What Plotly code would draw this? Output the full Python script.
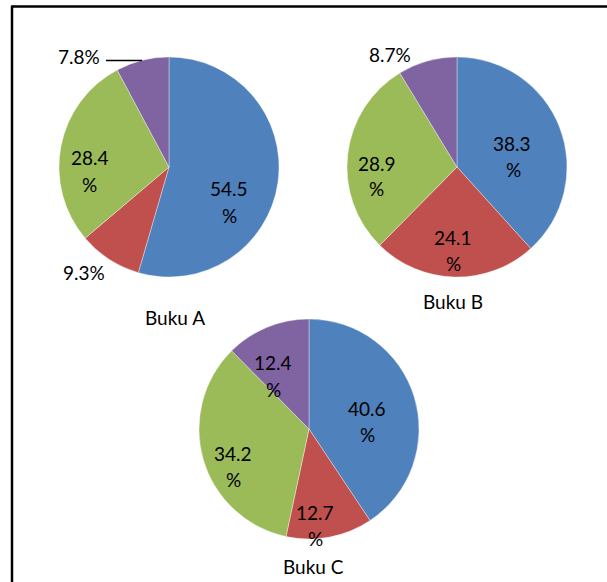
import plotly.graph_objects as go

W, H = 607, 582

books = ["Buku A", "Buku B", "Buku C"]
categories = ["Kategori 1", "Kategori 2", "Kategori 3", "Kategori 4"]
values_a = [54.5, 9.3, 28.4, 7.8]
values_b = [38.3, 24.1, 28.9, 8.7]
values_c = [40.6, 12.7, 34.2, 12.4]
colors = ["#4F81BD", "#C0504D", "#9BBB59", "#8064A2"]

FONT = "Lato, 'Open Sans', sans-serif"

def px_x(x):
    return x / W

def px_y(y):
    return 1 - y / H

# pie centres / radius in pixels (layout)
pies = [
    (values_a, (169, 167), 110),
    (values_b, (457, 167), 110),
    (values_c, (309, 429), 110),
]

fig = go.Figure()
for (vals, (cx, cy), r), name in zip(pies, books):
    fig.add_trace(go.Pie(
        labels=categories, values=vals, name=name,
        sort=False, direction="clockwise", rotation=0,
        marker=dict(colors=colors, line=dict(color="rgba(255,255,255,0.6)", width=0.6)),
        textinfo="none", hoverinfo="label+value",
        domain=dict(x=[px_x(cx - r), px_x(cx + r)], y=[px_y(cy + r), px_y(cy - r)]),
        showlegend=False,
    ))

# label placements (pixel centres) per slice: (two_line, num_pos, pct_pos)
label_pos = [
    [(True, (229, 187.5), (229, 214.5)),
     (False, (83.5, 271), None),
     (True, (89.5, 157), (89, 183)),
     (False, (79, 56), None)],
    [(True, (512, 142), (513, 168)),
     (True, (453, 236), (453, 263)),
     (True, (377, 162), (376, 188)),
     (False, (390, 53), None)],
    [(True, (367, 407), (367, 433)),
     (True, (315, 511), (315, 537)),
     (True, (233, 452), (233, 478)),
     (True, (273, 361), (273, 388))],
]

annotations = []
def add_text(text, pos):
    annotations.append(dict(
        text=text, x=px_x(pos[0]), y=px_y(pos[1] + 1), xref="paper", yref="paper",
        xanchor="center", yanchor="middle", showarrow=False,
        font=dict(family=FONT, size=19, color="#000000"),
    ))

for (vals, _, _), positions in zip(pies, label_pos):
    for v, (two, p1, p2) in zip(vals, positions):
        if two:
            add_text(f"{v}", p1)
            add_text("%", p2)
        else:
            add_text(f"{v}%", p1)

title_pos = [(175, 317), (453, 300), (313, 565)]
for name, pos in zip(books, title_pos):
    add_text(name, pos)

shapes = [
    # frame
    dict(type="line", xref="paper", yref="paper", x0=px_x(12), x1=1.0, y0=px_y(6.5), y1=px_y(6.5),
         line=dict(color="black", width=2.5)),
    dict(type="line", xref="paper", yref="paper", x0=px_x(12), x1=px_x(12), y0=px_y(5.5), y1=0,
         line=dict(color="black", width=2.5)),
    # leader line for small slice of Buku A
    dict(type="line", xref="paper", yref="paper", x0=px_x(106), x1=px_x(142), y0=px_y(60.5), y1=px_y(60.5),
         line=dict(color="black", width=1.5)),
]

fig.update_layout(
    width=W, height=H,
    margin=dict(l=0, r=0, t=0, b=0),
    paper_bgcolor="white", plot_bgcolor="white",
    annotations=annotations, shapes=shapes,
    showlegend=False,
)

fig.write_html(
    "out.html",
    config={"displayModeBar": False},
    post_script="document.body.style.margin='0';document.body.style.padding='0';document.body.style.overflow='hidden';",
)
